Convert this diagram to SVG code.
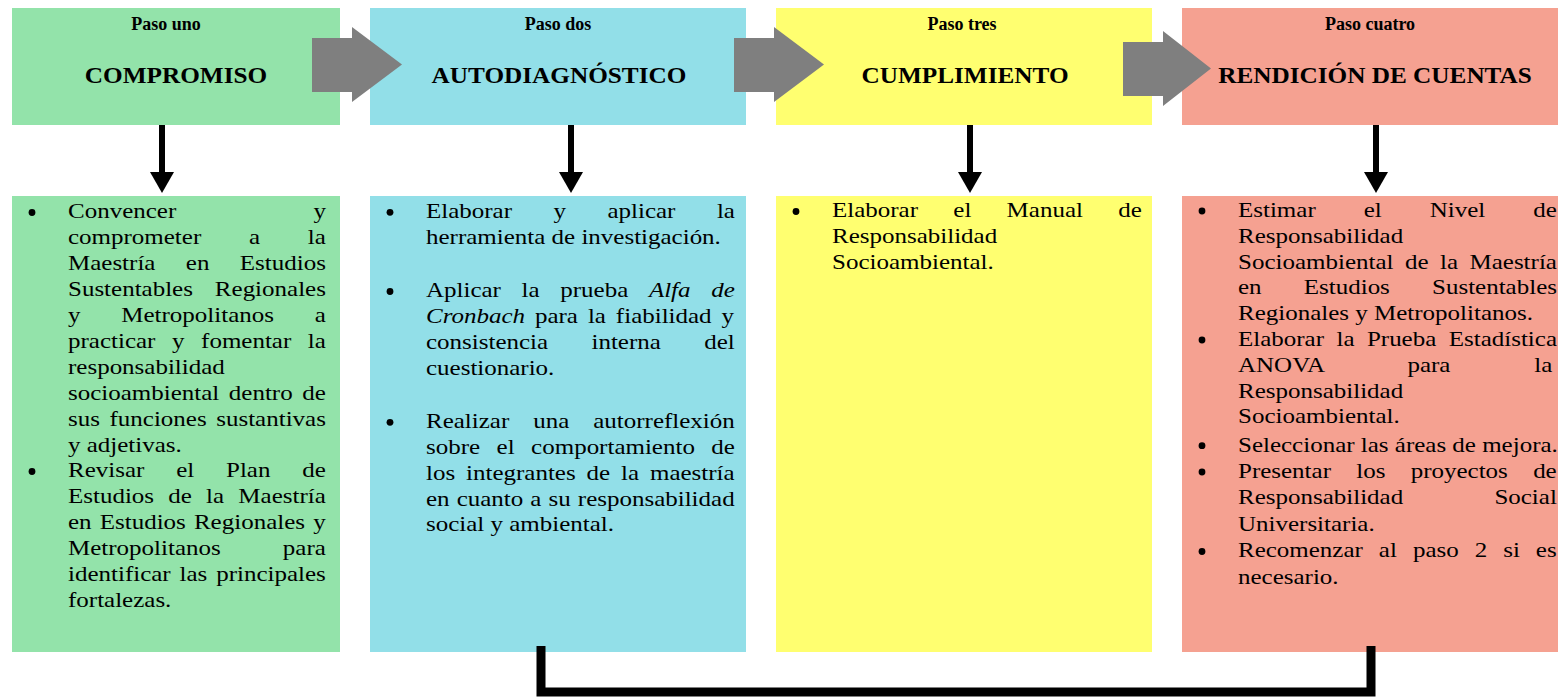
<svg xmlns="http://www.w3.org/2000/svg" width="1558" height="697" viewBox="0 0 1558 697">
<style>
.hdr{font-family:"Liberation Serif","Times New Roman",serif;font-weight:bold;fill:#000;text-anchor:middle}
.p{font-size:18px}
.t{font-size:23.5px}
.b{font-family:"Liberation Serif","Times New Roman",serif;font-size:21px;fill:#000}
.it{font-style:italic}
.g{fill:#93e3aa}.c{fill:#92dfe8}.y{fill:#ffff70}.s{fill:#f5a191}
.dot{fill:#000}
.ga{fill:#7f7f7f}
</style>
<defs>
<g id="down"><rect x="-3" y="0" width="6" height="50"/><polygon points="-12,47 12,47 0,68"/></g>
</defs>

<g id="step1">
<rect class="g" x="12" y="8" width="328" height="117"/>
<text class="hdr p" x="166" y="30">Paso uno</text>
<g transform="translate(176 0) scale(1.075 1)"><text class="hdr t" x="0" y="83">COMPROMISO</text></g>
</g>
<g id="step2">
<rect class="c" x="370" y="8" width="376" height="117"/>
<text class="hdr p" x="558" y="30">Paso dos</text>
<g transform="translate(559 0) scale(1.075 1)"><text class="hdr t" x="0" y="83">AUTODIAGNÓSTICO</text></g>
</g>
<g id="step3">
<rect class="y" x="776" y="8" width="376" height="117"/>
<text class="hdr p" x="962" y="30">Paso tres</text>
<g transform="translate(965 0) scale(1.075 1)"><text class="hdr t" x="0" y="83">CUMPLIMIENTO</text></g>
</g>
<g id="step4">
<rect class="s" x="1182" y="8" width="376" height="117"/>
<text class="hdr p" x="1370" y="30">Paso cuatro</text>
<g transform="translate(1375 0) scale(1.075 1)"><text class="hdr t" x="0" y="83">RENDICIÓN DE CUENTAS</text></g>
</g>

<g id="detail1">
<rect class="g" x="12" y="196" width="328" height="456"/>
<circle class="dot" cx="32" cy="212.5" r="3.4"/>
<circle class="dot" cx="32" cy="471.5" r="3.4"/>
<g class="b" transform="translate(68 0) scale(1.19 1)">
<text y="218.5" style="word-spacing:110px">Convencer y</text>
<text y="244.4" style="word-spacing:34.9px">comprometer a la</text>
<text y="270.3" style="word-spacing:20.3px">Maestría en Estudios</text>
<text y="296.2" style="word-spacing:13.2px">Sustentables Regionales</text>
<text y="322.1" style="word-spacing:29px">y Metropolitanos a</text>
<text y="348" style="word-spacing:8.7px">practicar y fomentar la</text>
<text y="373.9">responsabilidad</text>
<text y="399.8" style="word-spacing:2.8px">socioambiental dentro de</text>
<text y="425.7" style="word-spacing:2.8px">sus funciones sustantivas</text>
<text y="451.6">y adjetivas.</text>
<text y="477.5" style="word-spacing:21.5px">Revisar el Plan de</text>
<text y="503.4" style="word-spacing:6.7px">Estudios de la Maestría</text>
<text y="529.3" style="word-spacing:1.6px">en Estudios Regionales y</text>
<text y="555.2" style="word-spacing:47px">Metropolitanos para</text>
<text y="581.1" style="word-spacing:2.2px">identificar las principales</text>
<text y="607">fortalezas.</text>
</g>
</g>

<g id="detail2">
<rect class="c" x="370" y="196" width="376" height="456"/>
<circle class="dot" cx="390" cy="212.3" r="3.4"/>
<circle class="dot" cx="390" cy="291.5" r="3.4"/>
<circle class="dot" cx="390" cy="422.3" r="3.4"/>
<g class="b" transform="translate(426 0) scale(1.19 1)">
<text y="218.3" style="word-spacing:29.6px">Elaborar y aplicar la</text>
<text y="244.1">herramienta de investigación.</text>
<text y="297.5" style="word-spacing:12.1px">Aplicar la prueba <tspan class="it">Alfa de</tspan></text>
<text y="323.3" style="word-spacing:3.1px"><tspan class="it">Cronbach</tspan> para la fiabilidad y</text>
<text y="349.1" style="word-spacing:31.2px">consistencia interna del</text>
<text y="374.9">cuestionario.</text>
<text y="428.3" style="word-spacing:14.9px">Realizar una autorreflexión</text>
<text y="454.1" style="word-spacing:8.6px">sobre el comportamiento de</text>
<text y="479.9" style="word-spacing:3.9px">los integrantes de la maestría</text>
<text y="505.7" style="word-spacing:0.7px">en cuanto a su responsabilidad</text>
<text y="531.5">social y ambiental.</text>
</g>
</g>

<g id="detail3">
<rect class="y" x="776" y="196" width="376" height="456"/>
<circle class="dot" cx="796" cy="211.5" r="3.4"/>
<g class="b" transform="translate(832 0) scale(1.19 1)">
<text y="217.5" style="word-spacing:24.4px">Elaborar el Manual de</text>
<text y="243.5">Responsabilidad</text>
<text y="269.5">Socioambiental.</text>
</g>
</g>

<g id="detail4">
<rect class="s" x="1182" y="196" width="376" height="456"/>
<circle class="dot" cx="1202" cy="211" r="3.4"/>
<circle class="dot" cx="1202" cy="340" r="3.4"/>
<circle class="dot" cx="1202" cy="445.7" r="3.4"/>
<circle class="dot" cx="1202" cy="472" r="3.4"/>
<circle class="dot" cx="1202" cy="551.5" r="3.4"/>
<g class="b" transform="translate(1238 0) scale(1.19 1)">
<text y="217" style="word-spacing:35.1px">Estimar el Nivel de</text>
<text y="242.8">Responsabilidad</text>
<text y="268.6" style="word-spacing:4.4px">Socioambiental de la Maestría</text>
<text y="294.4" style="word-spacing:30.2px">en Estudios Sustentables</text>
<text y="320.2">Regionales y Metropolitanos.</text>
<text y="346" style="word-spacing:5.2px">Elaborar la Prueba Estadística</text>
<text y="371.8" style="word-spacing:65.2px">ANOVA para la</text>
<text y="397.6">Responsabilidad</text>
<text y="423.4">Socioambiental.</text>
<text y="451.7">Seleccionar las áreas de mejora.</text>
<text y="478" style="word-spacing:16px">Presentar los proyectos de</text>
<text y="504.5" style="word-spacing:71.4px">Responsabilidad Social</text>
<text y="531">Universitaria.</text>
<text y="557.5" style="word-spacing:8.2px">Recomenzar al paso 2 si es</text>
<text y="584">necesario.</text>
</g>
</g>

<g id="connectors">
<polygon class="ga" points="312,38 352,38 352,27 402,64.5 352,102 352,92 312,92"/>
<polygon class="ga" points="734,38 774,38 774,27 824,64.5 774,102 774,92 734,92"/>
<polygon class="ga" points="1123,42 1163,42 1163,31 1211,68.5 1163,106 1163,96 1123,96"/>
<use href="#down" x="162" y="125"/>
<use href="#down" x="571" y="125"/>
<use href="#down" x="970" y="125"/>
<use href="#down" x="1376" y="125"/>
<polyline points="541,646 541,692 1371,692 1371,646" fill="none" stroke="#000" stroke-width="9"/>
</g>
</svg>
